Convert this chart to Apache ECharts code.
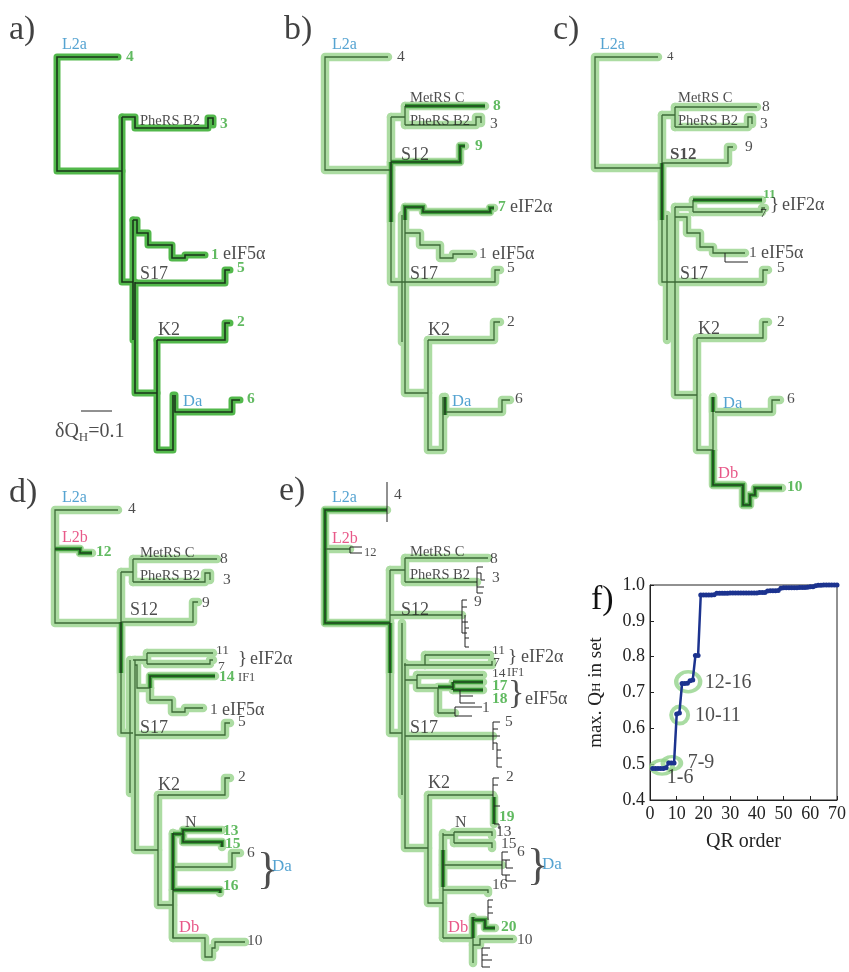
<!DOCTYPE html>
<html><head><meta charset="utf-8">
<script src="https://cdn.jsdelivr.net/npm/echarts@6/dist/echarts.min.js"></script>
<style>html,body{margin:0;padding:0;background:#fff}#c{width:849px;height:972px}</style>
</head><body><div id="c"></div>
<script>
// ---------- panel f data ----------
const qrOrder = [1,2,3,4,5,6,7,8,9,10,11,12,13,14,15,16,17,18,19,20,21,22,23,24,25,26,27,28,29,30,31,32,33,34,35,36,37,38,39,40,41,42,43,44,45,46,47,48,49,50,51,52,53,54,55,56,57,58,59,60,61,62,63,64,65,66,67,68,69,70];
const maxQH = [0.488,0.488,0.488,0.488,0.488,0.490,0.503,0.503,0.503,0.640,0.643,0.725,0.725,0.726,0.733,0.735,0.803,0.803,
 0.972,0.972,0.972,0.972,0.972,0.973,0.977,0.977,0.977,0.977,0.977,0.978,0.978,0.978,0.978,0.978,0.978,0.978,0.978,0.978,0.978,0.978,0.979,0.979,0.979,
 0.983,0.984,0.984,0.984,0.985,0.991,0.992,0.992,0.992,0.992,0.992,0.992,0.993,0.993,0.993,0.994,0.995,0.995,
 0.998,0.999,0.999,1.0,1.0,1.0,1.0,1.0,1.0];
const ringGroups = ['1-6','7-9','10-11','12-16'];
const ringX = [4.5, 8.2, 11.1, 14.3];
const ringY = [0.492, 0.503, 0.637, 0.730];
const groupLabelX = [6.3, 14.1, 16.8, 20.5];
const groupLabelY = [0.461, 0.503, 0.635, 0.727];
const xTicks = [0,10,20,30,40,50,60,70];
const yTicks = [0.4,0.5,0.6,0.7,0.8,0.9,1.0];

// ---------- tree panels: branch paths in layout units (x: QH distance, y: leaf order) ----------
const treeA = [
 ['A', [[118,57],[57,57],[57,171],[122,171]]],
 ['A', [[122,117],[122,282],[133,282]]],
 ['A', [[122,117],[135,117],[135,128],[208,128],[208,118],[213,118],[213,125]]],
 ['A', [[133,220],[137,220],[137,233],[148,233],[148,245],[172,245],[172,258],[185,258],[185,255],[205,255]]],
 ['A', [[133,220],[133,340]]],
 ['A', [[135,282],[135,393],[157,393]]],
 ['A', [[135,283],[225,283],[225,270],[230,270]]],
 ['A', [[157,340],[225,340],[225,323],[230,323]]],
 ['A', [[157,340],[157,450],[173,450],[173,395]]],
 ['A', [[175,395],[175,412],[232,412],[232,400],[240,400]]],
 ['T', [[81,411],[112,411]]]
];
const labelsA = [
 [9,30,'a)','P'],[62,45,'L2a','b',16],[126,57,'4','g'],[140,121,'PheRS B2','k',14.5],[220,124,'3','g'],
 [211,255,'1','g'],[223,254,'eIF5α','k',18],[140,274,'S17','k',18],[237,268,'5','g'],[158,330,'K2','k',18],
 [237,322,'2','g'],[183,402,'Da','b',16.5],[247,399,'6','g'],[55,432,'{a|δQ}{s|H}{a|=0.1}','rich',20]
];
const treeB = [
 ['N', [[108,57],[45,57],[45,170],[111,170]]],
 ['N', [[111,117],[111,282],[123,282]]],
 ['N', [[111,117],[125,117]]],
 ['N', [[125,106],[125,125]]],
 ['H', [[125,106],[205,106]]],
 ['N', [[125,125],[196,125],[196,117],[201,117],[201,123]]],
 ['H', [[111,162],[180,162],[180,146],[185,146]]],
 ['H', [[111,162],[111,222]]],
 ['N', [[122,215],[122,342]]],
 ['N', [[125,207],[125,393],[148,393]]],
 ['H', [[125,220],[125,207],[143,207],[143,212],[210,212],[210,208],[214,208]]],
 ['N', [[125,233],[140,233],[140,245],[160,245],[160,258],[173,258],[173,254],[193,254]]],
 ['N', [[123,282],[215,282],[215,270],[220,270]]],
 ['N', [[148,340],[214,340],[214,322],[220,322]]],
 ['N', [[148,340],[148,450],[163,450],[163,397]]],
 ['N', [[165,397],[165,412],[222,412],[222,400],[230,400]]],
 ['H', [[165,397],[165,415]]]
];
const labelsB = [
 [4,30,'b)','P'],[52,45,'L2a','b',16],[117,57,'4','k'],[130,98,'MetRS C','k',14.5],[213,106,'8','g'],
 [130,121,'PheRS B2','k',14.5],[210,124,'3','k'],[121,155,'S12','k',18],[195,146,'9','g'],[218,207,'7','g'],
 [230,207,'eIF2α','k',18],[199,254,'1','k'],[212,254,'eIF5α','k',18],[130,274,'S17','k',18],[227,268,'5','k'],
 [148,330,'K2','k',18],[227,322,'2','k'],[172,402,'Da','b',16.5],[235,399,'6','k']
];
const treeC = [
 ['N', [[98,57],[35,57],[35,168],[102,168]]],
 ['N', [[102,115],[102,282],[113,282]]],
 ['N', [[102,115],[115,115]]],
 ['N', [[115,107],[115,127]]],
 ['N', [[115,107],[197,107]]],
 ['N', [[115,127],[188,127],[188,117],[192,117],[192,124]]],
 ['N', [[102,163],[168,163],[168,147],[173,147]]],
 ['H', [[102,163],[102,220]]],
 ['N', [[107,215],[107,340]]],
 ['N', [[115,207],[115,395],[137,395]]],
 ['N', [[115,207],[133,207]]],
 ['N', [[133,200],[133,212]]],
 ['H', [[133,200],[202,200]]],
 ['N', [[133,212],[202,212],[202,208],[205,208]]],
 ['N', [[115,217],[127,217],[127,233],[140,233],[140,247],[153,247],[153,253],[185,253]]],
 ['T', [[165,253],[165,262],[188,262]]],
 ['N', [[113,282],[203,282],[203,270],[208,270]]],
 ['N', [[137,338],[203,338],[203,322],[208,322]]],
 ['N', [[137,338],[137,450],[153,450]]],
 ['N', [[153,397],[153,450]]],
 ['H', [[153,397],[153,412]]],
 ['N', [[155,412],[212,412],[212,400],[220,400]]],
 ['H', [[153,450],[153,485],[183,485],[183,505],[190,505],[190,495],[195,495],[195,488],[222,488]]]
];
const labelsC = [
 [-7,30,'c)','P'],[40,45,'L2a','b',16],[107,57,'4','k',13],[118,98,'MetRS C','k',14.5],[202,107,'8','k'],
 [118,121,'PheRS B2','k',14.5],[200,124,'3','k'],[110,155,'S12','kb',17],[185,147,'9','k'],[203,195,'11','g',13.5],
 [200,213,'7','k',13.5],[210,205,'}','k',19],[222,205,'eIF2α','k',18],[189,253,'1','k'],[201,253,'eIF5α','k',18],
 [120,274,'S17','k',18],[217,268,'5','k'],[138,329,'K2','k',18],[217,322,'2','k'],[163,404,'Da','b',16.5],
 [227,399,'6','k'],[158,474,'Db','r',16.5],[227,487,'10','g']
];
const treeD = [
 ['N', [[118,40],[55,40],[55,153],[121,153]]],
 ['H', [[55,79],[80,79],[80,83],[92,83]]],
 ['N', [[121,102],[121,263],[133,263]]],
 ['N', [[121,102],[133,102]]],
 ['N', [[133,89],[133,112]]],
 ['N', [[133,89],[217,89]]],
 ['N', [[133,112],[205,112],[205,103],[210,103],[210,110]]],
 ['N', [[121,152],[193,152],[193,132],[198,132]]],
 ['H', [[121,152],[121,203]]],
 ['N', [[130,190],[130,323]]],
 ['N', [[135,190],[135,380],[158,380]]],
 ['N', [[133,190],[147,190]]],
 ['N', [[147,183],[147,194]]],
 ['N', [[147,183],[213,183]]],
 ['N', [[147,194],[210,194],[210,190],[213,190]]],
 ['N', [[135,195],[137,195],[137,218],[150,218]]],
 ['H', [[150,218],[150,206],[215,206]]],
 ['N', [[150,218],[150,230],[172,230],[172,242],[185,242],[185,238],[203,238]]],
 ['N', [[135,265],[225,265],[225,253],[230,253]]],
 ['N', [[158,325],[225,325],[225,308],[230,308]]],
 ['N', [[158,325],[158,435],[173,435]]],
 ['N', [[173,363],[173,468]]],
 ['H', [[173,363],[173,420]]],
 ['H', [[173,364],[183,364],[183,360],[222,360]]],
 ['H', [[183,364],[183,372],[222,372],[222,377]]],
 ['N', [[175,397],[232,397],[232,383],[240,383]]],
 ['H', [[173,420],[220,420],[220,423]]],
 ['N', [[173,420],[173,468],[205,468],[205,487],[212,487],[212,478],[215,478],[215,472],[245,472]]]
];
const labelsD = [
 [9,23,'d)','P'],[62,28,'L2a','b',16],[128,39,'4','k'],[62,68,'L2b','r',16],[96,82,'12','g'],
 [140,83,'MetRS C','k',14.5],[220,89,'8','k'],[140,106,'PheRS B2','k',14.5],[223,110,'3','k'],[130,140,'S12','k',18],
 [202,133,'9','k'],[216,180,'11','k',13.5],[218,196,'7','k',13.5],[238,189,'}','k',19],[250,189,'eIF2α','k',18],
 [219,207,'14','g'],[238,208,'IF1','k',12.5],[210,240,'1','k'],[222,240,'eIF5α','k',18],[140,258,'S17','k',18],
 [238,252,'5','k'],[158,315,'K2','k',18],[238,307,'2','k'],[185,353,'N','k',16],[223,361,'13','g'],
 [225,374,'15','g'],[247,383,'6','k'],[257,401,'}','k',44],[272,397,'Da','b',17],[223,416,'16','g'],
 [179,458,'Db','r',16.5],[247,471,'10','k']
];
const treeE = [
 ['H', [[107,40],[45,40],[45,153],[110,153]]],
 ['T', [[107,12],[107,52]]],
 ['N', [[45,79],[70,79]]],
 ['T', [[82,77],[70,77],[70,83],[82,83]]],
 ['N', [[110,100],[110,263],[122,263]]],
 ['N', [[110,100],[125,100]]],
 ['N', [[125,88],[125,112]]],
 ['N', [[125,88],[208,88]]],
 ['N', [[125,112],[197,112]]],
 ['T', [[203,97],[197,97],[197,123],[203,123]]],
 ['T', [[197,103],[201,103],[201,110],[205,110]]],
 ['T', [[197,117],[204,117]]],
 ['N', [[110,145],[182,145]]],
 ['T', [[187,130],[182,130],[182,163],[187,163]]],
 ['T', [[182,137],[187,137]]],
 ['T', [[182,152],[188,152]]],
 ['T', [[185,145],[185,177],[189,177]]],
 ['T', [[185,158],[189,158]]],
 ['T', [[185,168],[189,168]]],
 ['H', [[110,153],[110,203]]],
 ['N', [[122,153],[122,325]]],
 ['N', [[125,193],[125,378],[148,378]]],
 ['N', [[124,195],[145,195]]],
 ['N', [[145,185],[145,195]]],
 ['N', [[145,185],[210,185]]],
 ['N', [[145,195],[212,195],[212,191]]],
 ['N', [[125,210],[137,210]]],
 ['N', [[137,205],[137,218],[158,218]]],
 ['N', [[137,205],[203,205]]],
 ['N', [[158,218],[158,243]]],
 ['H', [[158,217],[173,217]]],
 ['H', [[173,212],[173,220]]],
 ['H', [[173,212],[203,212]]],
 ['H', [[173,220],[203,220]]],
 ['T', [[180,220],[180,233],[195,233]]],
 ['T', [[180,226],[193,226]]],
 ['N', [[158,243],[175,243]]],
 ['T', [[175,246],[175,237],[202,237]]],
 ['T', [[175,246],[192,246]]],
 ['N', [[125,266],[213,266]]],
 ['T', [[220,252],[213,252],[213,280]]],
 ['T', [[213,259],[218,259]]],
 ['T', [[213,266],[220,266]]],
 ['T', [[213,273],[217,273],[217,297],[222,297]]],
 ['T', [[217,280],[221,280]]],
 ['T', [[217,288],[222,288]]],
 ['N', [[148,325],[213,325]]],
 ['T', [[219,308],[213,308],[213,327]]],
 ['T', [[213,315],[218,315]]],
 ['H', [[214,327],[214,354]]],
 ['T', [[214,336],[220,336]]],
 ['T', [[214,354],[219,354],[219,359]]],
 ['N', [[148,325],[148,433],[163,433]]],
 ['N', [[163,363],[163,468]]],
 ['H', [[163,380],[163,417]]],
 ['N', [[163,365],[174,365]]],
 ['N', [[174,362],[174,373]]],
 ['N', [[174,362],[212,362],[212,366]]],
 ['N', [[174,373],[212,373],[212,378]]],
 ['N', [[163,395],[222,395]]],
 ['T', [[228,382],[222,382],[222,405],[230,405]]],
 ['T', [[222,390],[230,390]]],
 ['T', [[226,390],[226,398],[233,398]]],
 ['T', [[226,405],[226,411],[236,411]]],
 ['N', [[163,420],[208,420],[208,423]]],
 ['N', [[163,468],[193,468]]],
 ['H', [[193,447],[193,468]]],
 ['H', [[193,450],[205,450],[205,458],[215,458]]],
 ['T', [[213,430],[208,430],[208,450]]],
 ['T', [[208,437],[212,437]]],
 ['T', [[208,443],[213,443]]],
 ['N', [[193,468],[193,493]]],
 ['N', [[193,475],[200,475],[200,469],[233,469]]],
 ['T', [[210,478],[202,478],[202,497],[210,497]]],
 ['T', [[202,485],[208,485]]],
 ['T', [[202,490],[212,490]]]
];
const labelsE = [
 [-1,21,'e)','P'],[52,28,'L2a','b',16],[114,25,'4','k'],[52,69,'L2b','r',16],[84,83,'12','k',12.5],
 [130,82,'MetRS C','k',14.5],[210,89,'8','k'],[130,105,'PheRS B2','k',14.5],[212,108,'3','k'],[121,140,'S12','k',18],
 [194,132,'9','k'],[212,180,'11','k',13.5],[213,192,'7','k',13.5],[228,187,'}','k',19],[241,187,'eIF2α','k',18],
 [212,203,'14','k',13.5],[227,203,'IF1','k',12.5],[212,216,'17','g'],[212,229,'18','g'],[228,224,'}','k',34],
 [245,229,'eIF5α','k',18],[202,238,'1','k'],[130,258,'S17','k',18],[225,252,'5','k'],[148,313,'K2','k',18],
 [226,307,'2','k'],[219,347,'19','g'],[175,353,'N','k',16],[216,362,'13','k'],[221,374,'15','k'],
 [237,382,'6','k'],[247,397,'}','k',44],[262,395,'Da','b',17],[212,415,'16','k'],[168,458,'Db','r',16.5],
 [221,457,'20','g'],[237,470,'10','k']
];

// ---------- build ----------
const SERIF = "'Liberation Serif','DejaVu Serif',serif";
const panels = [
 {paths: treeA, labels: labelsA, box:[0,0,280,470], x0:0},
 {paths: treeB, labels: labelsB, box:[280,0,280,470], x0:0},
 {paths: treeC, labels: labelsC, box:[550,0,299,520], x0:-10},
 {paths: treeD, labels: labelsD, box:[0,470,320,502], x0:0},
 {paths: treeE, labels: labelsE, box:[280,470,300,502], x0:0}
];
function lbl(kind, size){
  const b = {show:true, position:'right', distance:0, fontFamily:SERIF, color:'#222', fontSize:size||15.5};
  if(kind==='b') b.color='#2a8cc6';
  if(kind==='r') b.color='#e2306b';
  if(kind==='g'){ b.color='#3aa93a'; b.fontWeight='bold'; }
  if(kind==='kb') b.fontWeight='bold';
  if(kind==='P'){ b.fontSize=34; b.color='#111'; }
  if(kind==='rich'){ b.rich={a:{fontFamily:SERIF,fontSize:size,color:'#222'}, s:{fontFamily:SERIF,fontSize:13,color:'#222',padding:[11,0,0,0]}}; }
  return b;
}
const grids=[], xAxes=[], yAxes=[], series=[];
const layers = [
  {keys:['N','H'], z:1, ls:{color:'#acdca2', width:8.5, opacity:1, join:'round', cap:'round'}},
  {keys:['A'], z:1, ls:{color:'#52b84b', width:7, opacity:1, join:'round', cap:'round'}},
  {keys:['H'], z:2, ls:{color:'#3c9c39', width:4.5, opacity:1, join:'miter', cap:'butt'}},
  {keys:['N'], z:3, ls:{color:'#3c6a37', width:1.3, opacity:1, join:'miter'}},
  {keys:['H'], z:3, ls:{color:'#1d441d', width:1.6, opacity:1, join:'miter'}},
  {keys:['A'], z:3, ls:{color:'#1a361a', width:1.6, opacity:1, join:'miter'}},
  {keys:['T'], z:3, ls:{color:'#222', width:1, opacity:1, join:'miter'}}
];
panels.forEach((p,i)=>{
  const [l,t,w,h]=p.box;
  grids.push({left:l, top:t, width:w, height:h, containLabel:false});
  xAxes.push({type:'value', gridIndex:i, min:p.x0, max:p.x0+w, show:false});
  yAxes.push({type:'value', gridIndex:i, min:0, max:h, inverse:true, show:false});
  layers.forEach(L=>{
    const d = p.paths.filter(q=>L.keys.includes(q[0])).map(q=>({coords:q[1]}));
    if(!d.length) return;
    series.push({type:'lines', coordinateSystem:'cartesian2d', xAxisIndex:i, yAxisIndex:i, polyline:true,
      silent:true, z:L.z, lineStyle:Object.assign({curveness:0}, L.ls), data:d, animation:false});
  });
  series.push({type:'scatter', xAxisIndex:i, yAxisIndex:i, symbolSize:0, silent:true, z:10, clip:false,
    data:p.labels.map(q=>({value:[q[0],q[1]], label:Object.assign(lbl(q[3],q[4]),{formatter:q[2]})}))});
});
// panel f
const fi = panels.length;
grids.push({left:650, top:585, width:188, height:215, show:true, borderColor:'#222', borderWidth:1, backgroundColor:'transparent'});
xAxes.push({type:'value', gridIndex:fi, min:0, max:70, interval:10,
  axisLine:{show:true, lineStyle:{color:'#222'}}, axisTick:{show:true, inside:true, length:4, lineStyle:{color:'#222'}},
  splitLine:{show:false}, axisLabel:{fontFamily:SERIF, fontSize:18, color:'#222', margin:5, formatter:v=>xTicks.includes(v)?String(v):''},
  name:'QR order', nameLocation:'middle', nameGap:32, nameTextStyle:{fontFamily:SERIF, fontSize:20, color:'#222'}});
yAxes.push({type:'value', gridIndex:fi, min:0.4, max:1.0, interval:0.1,
  axisLine:{show:true, lineStyle:{color:'#222'}}, axisTick:{show:true, inside:true, length:4, lineStyle:{color:'#222'}},
  splitLine:{show:false}, axisLabel:{fontFamily:SERIF, fontSize:18, color:'#222', margin:5, formatter:v=>v.toFixed(1)},
  name:'{a|max. Q}{s|H}{a| in set}', nameLocation:'middle', nameGap:44, nameRotate:90,
  nameTextStyle:{rich:{a:{fontFamily:SERIF, fontSize:19, color:'#222'}, s:{fontFamily:SERIF, fontSize:13, color:'#222'}}}});
const ringSizes=[[21,14],[18,13],[17,17],[24,20]];
series.push({type:'scatter', xAxisIndex:fi, yAxisIndex:fi, z:3, silent:true,
  data:ringX.map((x,i)=>({value:[x,ringY[i]], symbolSize:ringSizes[i]})),
  itemStyle:{color:'rgba(0,0,0,0)', borderColor:'#93d38b', borderWidth:4}});
series.push({type:'line', xAxisIndex:fi, yAxisIndex:fi, z:5, silent:true,
  data:qrOrder.map((x,i)=>[x,maxQH[i]]), showAllSymbol:true, symbol:'circle', symbolSize:5,
  itemStyle:{color:'#1c338f'}, lineStyle:{color:'#1c338f', width:2.5}});
series.push({type:'scatter', xAxisIndex:fi, yAxisIndex:fi, symbolSize:0, z:6, silent:true, clip:false,
  data:ringGroups.map((g,i)=>({value:[groupLabelX[i],groupLabelY[i]], label:{show:true, position:'right', distance:0, formatter:g, fontFamily:SERIF, fontSize:20, color:'#222'}}))});

const chart = echarts.init(document.getElementById('c'));
chart.setOption({
  animation:false, backgroundColor:'#fff',
  title:{text:'f)', left:586, top:578, textStyle:{fontFamily:SERIF, fontSize:34, fontWeight:'normal', color:'#111'}},
  grid:grids, xAxis:xAxes, yAxis:yAxes, series:series
});
</script></body></html>
